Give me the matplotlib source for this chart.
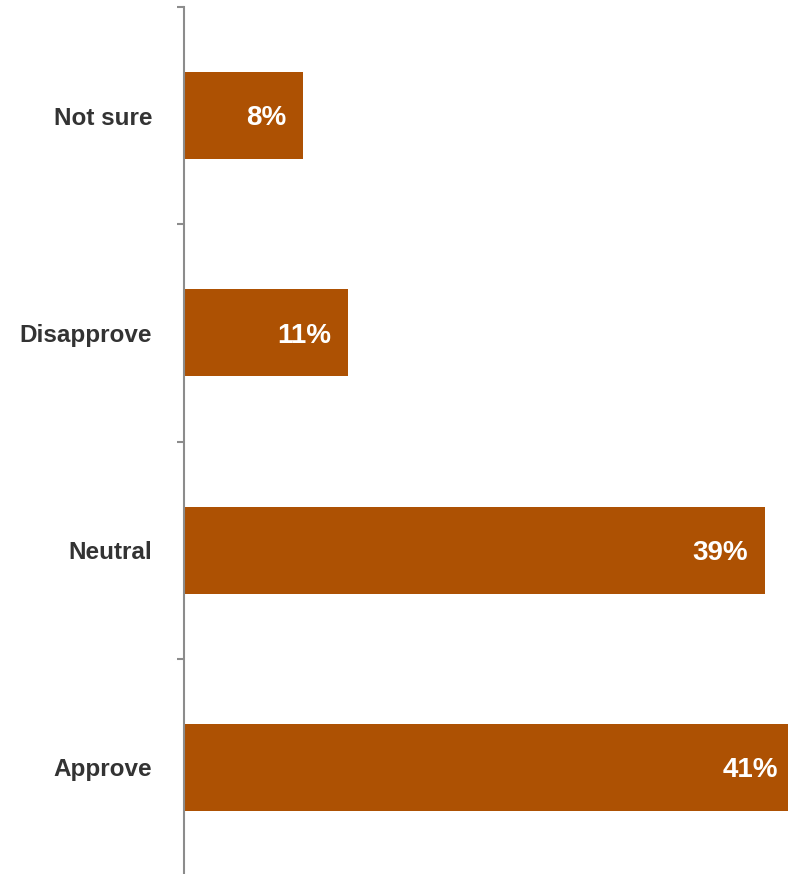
import matplotlib.pyplot as plt
import numpy as np

categories = ['Approve', 'Neutral', 'Disapprove', 'Not sure']
values = [41, 39, 11, 8]
labels = ['41%', '39%', '11%', '8%']

bar_color = '#AD5103'
axis_color = '#8C8C8C'

plt.rcParams['font.family'] = ['Liberation Sans', 'DejaVu Sans']

fig = plt.figure(figsize=(7.88, 8.74), dpi=100)
ax = fig.add_axes([184 / 788, -2 / 874, 604 / 788, 869 / 874])

y = np.arange(len(categories))
ax.barh(y, values, height=0.4, color=bar_color)

# value labels sit inside the bar end
for yi, v, lab in zip(y, values, labels):
    ax.annotate(lab, (v, yi), xytext=(-12, -2), textcoords='offset points',
                ha='right', va='center', color='white',
                fontsize=20, fontweight='bold', annotation_clip=False)

ax.set_xlim(0, 40.54)
ax.set_ylim(-0.5, len(categories) - 0.5)

ax.set_yticks(y)
ax.set_yticklabels(categories, fontsize=17.5, fontweight='bold', color='#333333')
ax.tick_params(axis='y', which='major', length=0, pad=23)
ax.set_yticks(np.arange(len(categories) + 1) - 0.5, minor=True)
ax.tick_params(axis='y', which='minor', length=5, width=1.5, color=axis_color)

ax.set_xticks([])
for side in ['top', 'right', 'bottom']:
    ax.spines[side].set_visible(False)
ax.spines['left'].set_color(axis_color)
ax.spines['left'].set_linewidth(1.5)

fig.savefig('out.png', dpi=100)
